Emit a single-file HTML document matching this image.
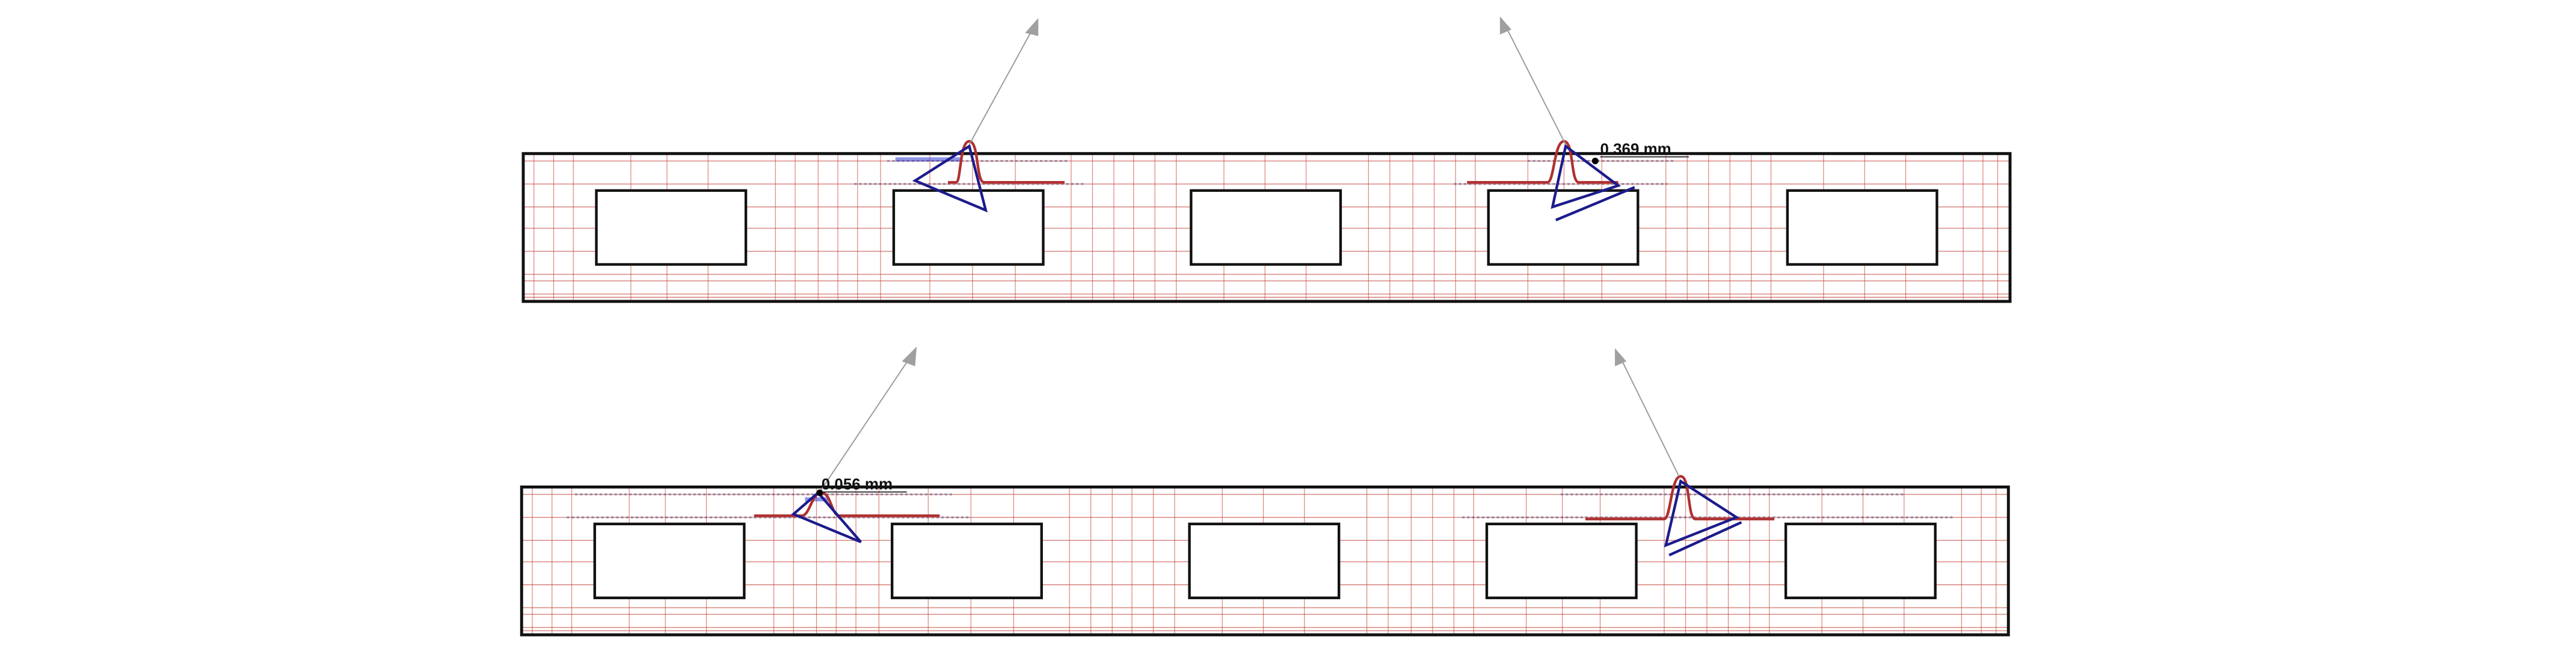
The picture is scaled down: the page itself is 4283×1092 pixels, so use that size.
<!DOCTYPE html>
<html><head><meta charset="utf-8"><style>
html,body{margin:0;padding:0;background:#fff;}
svg{display:block;}
</style></head><body>
<svg width="4283" height="1092" viewBox="0 0 1568 400" preserveAspectRatio="none" xmlns="http://www.w3.org/2000/svg">
<defs>
<g id="beam">
  <rect x="318" y="93" width="906" height="91" fill="#fff"/>
  <g stroke="#c0392b" stroke-opacity="0.55" stroke-width="0.6">
    <line x1="319" y1="98" x2="1223" y2="98"/>
    <line x1="319" y1="112" x2="1223" y2="112"/>
    <line x1="319" y1="126" x2="1223" y2="126"/>
    <line x1="319" y1="139" x2="1223" y2="139"/>
    <line x1="319" y1="153" x2="1223" y2="153"/>
    <line x1="319" y1="167" x2="1223" y2="167"/>
    <line x1="319" y1="171" x2="1223" y2="171"/>
    <line x1="319" y1="179" x2="1223" y2="179"/>
    <line x1="319" y1="181" x2="1223" y2="181"/>
  </g>
  <g stroke="#c0392b" stroke-opacity="0.6" stroke-width="0.45">
    <line x1="325" y1="94" x2="325" y2="183"/><line x1="337" y1="94" x2="337" y2="183"/>
    <line x1="349" y1="94" x2="349" y2="183"/><line x1="384" y1="94" x2="384" y2="183"/>
    <line x1="406" y1="94" x2="406" y2="183"/><line x1="431" y1="94" x2="431" y2="183"/>
    <line x1="472" y1="94" x2="472" y2="183"/><line x1="484" y1="94" x2="484" y2="183"/>
    <line x1="498" y1="94" x2="498" y2="183"/><line x1="510" y1="94" x2="510" y2="183"/>
    <line x1="522" y1="94" x2="522" y2="183"/><line x1="536" y1="94" x2="536" y2="183"/>
    <line x1="566" y1="94" x2="566" y2="183"/><line x1="592" y1="94" x2="592" y2="183"/>
    <line x1="618" y1="94" x2="618" y2="183"/><line x1="652" y1="94" x2="652" y2="183"/>
    <line x1="665" y1="94" x2="665" y2="183"/><line x1="678" y1="94" x2="678" y2="183"/>
    <line x1="690" y1="94" x2="690" y2="183"/><line x1="703" y1="94" x2="703" y2="183"/>
    <line x1="716" y1="94" x2="716" y2="183"/><line x1="745" y1="94" x2="745" y2="183"/>
    <line x1="770" y1="94" x2="770" y2="183"/><line x1="795" y1="94" x2="795" y2="183"/>
    <line x1="833" y1="94" x2="833" y2="183"/><line x1="846" y1="94" x2="846" y2="183"/>
    <line x1="860" y1="94" x2="860" y2="183"/><line x1="873" y1="94" x2="873" y2="183"/>
    <line x1="886" y1="94" x2="886" y2="183"/><line x1="898" y1="94" x2="898" y2="183"/>
    <line x1="930" y1="94" x2="930" y2="183"/><line x1="952" y1="94" x2="952" y2="183"/>
    <line x1="975" y1="94" x2="975" y2="183"/><line x1="1014" y1="94" x2="1014" y2="183"/>
    <line x1="1027" y1="94" x2="1027" y2="183"/><line x1="1040" y1="94" x2="1040" y2="183"/>
    <line x1="1053" y1="94" x2="1053" y2="183"/><line x1="1066" y1="94" x2="1066" y2="183"/>
    <line x1="1078" y1="94" x2="1078" y2="183"/><line x1="1110" y1="94" x2="1110" y2="183"/>
    <line x1="1135" y1="94" x2="1135" y2="183"/><line x1="1160" y1="94" x2="1160" y2="183"/>
    <line x1="1195" y1="94" x2="1195" y2="183"/><line x1="1207" y1="94" x2="1207" y2="183"/>
    <line x1="1216" y1="94" x2="1216" y2="183"/>
  </g>
  <g fill="#fff" stroke="#111" stroke-width="1.6">
    <rect x="363" y="116" width="91" height="45"/>
    <rect x="544" y="116" width="91" height="45"/>
    <rect x="725" y="116" width="91" height="45"/>
    <rect x="906" y="116" width="91" height="45"/>
    <rect x="1088" y="116" width="91" height="45"/>
  </g>
  <rect x="318.5" y="93.5" width="905" height="90" fill="none" stroke="#111" stroke-width="1.8"/>
</g>
</defs>

<use href="#beam"/>
<use href="#beam" transform="translate(-1,203)"/>

<g stroke="#5a5a8a" stroke-opacity="0.55" stroke-width="1.2" stroke-dasharray="1.5 1.5">
  <line x1="540" y1="98" x2="650" y2="98"/>
  <line x1="520" y1="112" x2="660" y2="112"/>
  <line x1="885" y1="112" x2="1015" y2="112"/>
  <line x1="930" y1="98" x2="1020" y2="98"/>
  <line x1="350" y1="301" x2="580" y2="301"/>
  <line x1="345" y1="315" x2="590" y2="315"/>
  <line x1="890" y1="315" x2="1190" y2="315"/>
  <line x1="950" y1="301" x2="1160" y2="301"/>
</g>
<g stroke="#2030d0" stroke-opacity="0.5" stroke-width="2.5">
  <line x1="545" y1="97" x2="585" y2="97"/>
  <line x1="490" y1="304" x2="505" y2="304"/>
</g>

<g fill="none" stroke="#b03030" stroke-width="1.6">
  <path d="M577 111 L582 111 C585 111 584 86 590 86 C596 86 594 111 599 111 L648 111"/>
  <path d="M893 111 L942 111 C946 111 946 86 952 86 C958 86 956 111 961 111 L985 111"/>
  <path d="M459 314 L488 314 C493 314 494 300 500 300 C506 300 506 314 511 314 L572 314"/>
  <path d="M965 316 L1013 316 C1017 316 1017 290 1023 290 C1029 290 1027 316 1032 316 L1080 316"/>
</g>

<g fill="none" stroke="#1c1c8c" stroke-width="1.6">
  <path d="M590 89 L557 110 L600 128 Z"/>
  <path d="M953 89 L985 113 L945 126 Z"/>
  <line x1="947" y1="134" x2="995" y2="114"/>
  <path d="M498 300 L483 313 L524 330 Z"/>
  <path d="M1023 293 L1057 315 L1014 332 Z"/>
  <line x1="1016" y1="338" x2="1060" y2="318"/>
</g>

<g stroke="#999" stroke-width="0.7" fill="#a0a0a0">
  <line x1="590" y1="88" x2="630" y2="15"/>
  <polygon points="632,11 624,20 632,22" stroke="none"/>
  <line x1="953" y1="88" x2="916" y2="15"/>
  <polygon points="913,10 913,21 920,18" stroke="none"/>
  <line x1="500" y1="298" x2="555" y2="216"/>
  <polygon points="558,211 549,220 557,223" stroke="none"/>
  <line x1="1022" y1="290" x2="986" y2="217"/>
  <polygon points="983,212 983,223 990,220" stroke="none"/>
</g>

<circle cx="971" cy="98" r="2" fill="#000"/>
<text x="974" y="94" font-family="Liberation Sans, sans-serif" font-size="9.5" font-weight="bold" fill="#111">0.369 mm</text>
<line x1="974" y1="95.5" x2="1028" y2="95.5" stroke="#111" stroke-width="0.6"/>
<circle cx="499" cy="300" r="2" fill="#000"/>
<text x="500" y="298" font-family="Liberation Sans, sans-serif" font-size="9.5" font-weight="bold" fill="#111">0.056 mm</text>
<line x1="500" y1="299.5" x2="552" y2="299.5" stroke="#111" stroke-width="0.6"/>
</svg>
</body></html>
